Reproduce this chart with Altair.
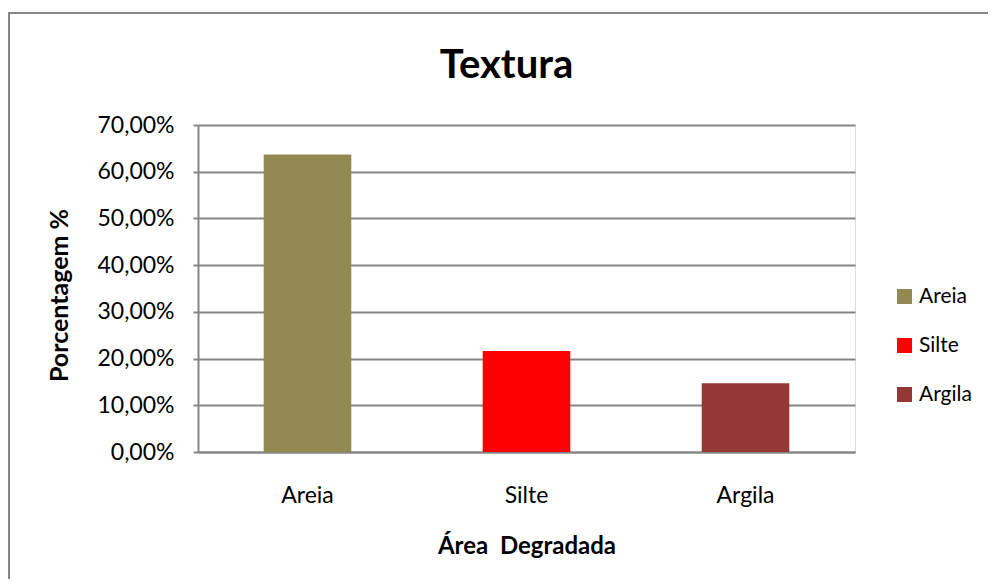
import altair as alt
import pandas as pd

categories = ["Areia", "Silte", "Argila"]
values = [0.637, 0.216, 0.147]
colors = ["#938953", "#FF0000", "#953735"]
y_ticks = [0.0, 0.1, 0.2, 0.3, 0.4, 0.5, 0.6, 0.7]

df = pd.DataFrame({"Categoria": categories, "Valor": values})

FONT = "Lato"
GRAY = "#868686"

bars = alt.Chart(df).mark_bar().encode(
    x=alt.X(
        "Categoria:N",
        sort=categories,
        scale=alt.Scale(paddingInner=0.6, paddingOuter=0.3),
        axis=alt.Axis(
            title="Área\u00a0 Degradada",
            labelAngle=0,
            ticks=False,
            tickSize=0,
            labelPadding=50,
            labelBaseline="alphabetic",
            labelFont=FONT,
            labelFontSize=23,
            labelColor="#000000",
            titleFont=FONT,
            titleFontSize=24,
            titleFontWeight="bold",
            titleColor="#000000",
            titleBaseline="alphabetic",
            titleY=101,
            domainColor=GRAY,
            domainWidth=2,
        ),
    ),
    y=alt.Y(
        "Valor:Q",
        scale=alt.Scale(domain=[0, 0.7], nice=False),
        axis=alt.Axis(
            title="Porcentagem %",
            values=y_ticks,
            labelExpr="replace(format(datum.value, '.2%'), '.', ',')",
            labelFont=FONT,
            labelFontSize=23,
            labelColor="#000000",
            labelPadding=19,
            tickSize=5,
            tickColor=GRAY,
            tickWidth=2,
            grid=True,
            gridColor=GRAY,
            gridWidth=2,
            domainColor=GRAY,
            domainWidth=2,
            titleFont=FONT,
            titleFontSize=25,
            titleFontWeight="bold",
            titleColor="#000000",
            titleBaseline="alphabetic",
            titleAlign="center",
            titleAngle=-90,
            titleX=-131,
            titleY=170,
        ),
    ),
    color=alt.Color(
        "Categoria:N",
        sort=categories,
        scale=alt.Scale(domain=categories, range=colors),
        legend=alt.Legend(
            title=None,
            orient="none",
            legendX=696,
            legendY=161,
            symbolType="square",
            symbolSize=225,
            symbolStrokeWidth=0,
            labelFont=FONT,
            labelFontSize=21,
            labelColor="#000000",
            labelOffset=4,
            rowPadding=27,
            padding=0,
        ),
    ),
)

border = alt.Chart(alt.Data(values=[{"a": 1}])).mark_rect(
    filled=False, stroke=GRAY, strokeWidth=2
).encode(
    x=alt.value(-189), x2=alt.value(3000), y=alt.value(-112), y2=alt.value(3000)
)

chart = alt.layer(border, bars).properties(
    width=657,
    height=327,
    autosize=alt.AutoSizeParams(type="none"),
    padding={"left": 190, "top": 117, "right": 133, "bottom": 127},
    title=alt.Title(
        "Textura",
        font=FONT,
        fontSize=40,
        fontWeight="bold",
        color="#000000",
        anchor="middle",
        frame="group",
        baseline="alphabetic",
        offset=-106,
        dx=-20,
    ),
).configure_view(stroke=None).configure(background="white")

chart.save("out.html", embed_options={"renderer": "svg", "actions": False})
